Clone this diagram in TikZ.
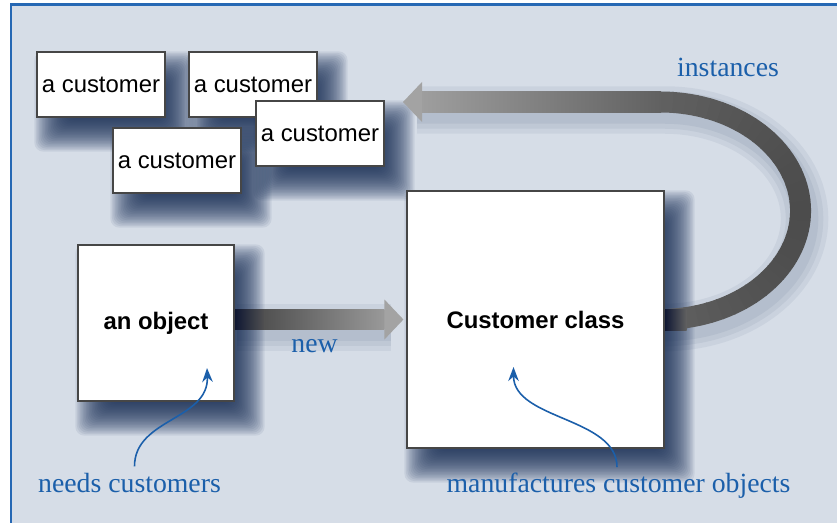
\documentclass[tikz,border=0pt]{standalone}
\usepackage{fontspec}
\setmainfont{Liberation Sans}
\newfontfamily\notefont{Liberation Serif}
\usetikzlibrary{positioning, calc, arrows.meta}

\definecolor{paneblue}{RGB}{214,221,231}
\definecolor{frameblue}{RGB}{38,104,180}
\definecolor{noteblue}{RGB}{27,95,170}
\definecolor{shadownavy}{RGB}{20,44,84}
\definecolor{arrownavy}{RGB}{14,22,50}
\definecolor{boxline}{RGB}{70,70,70}

\pgfdeclarelayer{backdrop}
\pgfdeclarelayer{shadow}
\pgfdeclarelayer{band}
\pgfsetlayers{backdrop,shadow,band,main}

\begin{document}
\begin{tikzpicture}[x=0.02cm, y=-0.02cm, node distance=3.04cm]
    % Define block styles
    \tikzstyle{custbox} = [rectangle, draw=boxline, line width=0.7pt, fill=white, minimum width=2.56cm, minimum height=1.3cm, inner sep=0pt, font=\fontsize{13.6}{16}\selectfont]
    \tikzstyle{bigbox} = [custbox, font=\fontsize{13.6}{16}\selectfont\bfseries]
    \tikzstyle{note} = [text=noteblue, inner sep=0pt, anchor=base, font=\notefont\fontsize{15.8}{19}\selectfont]
    \tikzstyle{pointer} = [draw=noteblue, line width=0.9pt, -{Stealth[length=8pt, width=6pt]}]
    \tikzstyle{bandline} = [line width=0.42cm]

    \useasboundingbox (0,0) rectangle (837,523);

    % Place nodes
    \node [custbox] (customer_a) at (101,84.5) {a customer};
    \node [custbox, right of=customer_a] (customer_b) {a customer};
    \node [custbox, yshift=-1.52cm] (customer_c) at ($(customer_a)!0.5!(customer_b)$) {a customer};
    \node [custbox, xshift=1.34cm, yshift=-0.98cm] (customer_d) at (customer_b) {a customer};
    \node [bigbox, minimum width=3.12cm, minimum height=3.12cm] (an_object) at (156,323) {an object};
    \node [bigbox, minimum width=5.14cm, minimum height=5.14cm] (customer_class) at (535.5,319.5) {Customer class};

    % Add text
    \node [note] (label_instances) at (728,77) {instances};
    \node [note] (label_new) at (314.5,352.5) {new};
    \node [note] (label_needs) at (129.5,492) {needs customers};
    \node [note] (label_manufactures) at (618.5,492) {manufactures customer objects};

    % Arrow ends
    \coordinate (object_spot) at ($(an_object.center)+(51,45)$);
    \coordinate (class_spot) at ($(customer_class.center)+(-22,47.5)$);
    \coordinate (new_start) at (an_object.east |- customer_class.west);
    \coordinate (new_tip) at ($(customer_class.west)+(-3,0)$);
    \coordinate (inst_tip) at (403,102);
    \coordinate (loop_center) at ($(customer_class.east)+(-4,-108.75)$);
    \coordinate (loop_top) at ($(loop_center)+(0,-108.75)$);

    % Draw pointers
    \draw [pointer] ([shift={(5,-6)}]label_needs.north) .. controls +(0,-48) and +(2,52) .. (object_spot);
    \draw [pointer] ([shift={(-1.5,-5)}]label_manufactures.north) .. controls +(0,-50) and +(0,53) .. (class_spot);

    % Draw the wide arrows
    \begin{pgfonlayer}{band}
        \shade [left color=arrownavy, right color=black!68] ($(new_start)+(0,-10)$) rectangle ($(new_start)+(30,10)$);
        \shade [left color=black!68, right color=black!40] ($(new_start)+(29.5,-10)$) rectangle ($(new_tip)+(-19,10)$);
        \fill [black!36] ($(new_tip)+(-19,-20)$) -- (new_tip) -- ($(new_tip)+(-19,20)$) -- cycle;

        \foreach \a [evaluate=\a as \g using {62+8*cos(\a+2.5)}] in {-90,-85,...,85}
            \draw [bandline, black!\g] ($(loop_center)+(\a:2.8cm and 2.175cm)$) arc [start angle=\a, end angle=\a+5.5, x radius=2.8cm, y radius=2.175cm];
        \shade [left color=black!38, right color=black!62] ($(inst_tip)+(18.5,-10.5)$) rectangle ($(loop_top)+(0.5,10.5)$);
        \fill [black!36] ($(inst_tip)+(19,-20)$) -- (inst_tip) -- ($(inst_tip)+(19,20)$) -- cycle;
        \shade [left color=arrownavy, right color=black!62] ($(customer_class.east)+(0,-10.5)$) rectangle ($(customer_class.east)+(22,10.5)$);
    \end{pgfonlayer}

    % Soft shadows
    \begin{pgfonlayer}{shadow}
        \foreach \n in {customer_a, customer_b, customer_c, customer_d, an_object, customer_class}
            \foreach \k in {0,...,23}
                \fill [shadownavy, opacity=0.075, rounded corners=5pt] ([shift={(-2+1.5*\k, 1.5*\k)}]\n.north west) rectangle ([shift={(30-1.5*\k, 34-1.5*\k)}]\n.south east);
        \foreach \w in {0.95cm, 0.75cm, 0.55cm}{
            \draw [shadownavy, opacity=0.06, line width=\w] ([shift={(2,8)}]new_start) -- ([shift={(-12,8)}]new_tip);
            \draw [shadownavy, opacity=0.06, line width=\w] ([shift={(14,8)}]inst_tip) -- ([shift={(4,8)}]loop_top) arc [start angle=90, end angle=-90, x radius=2.8cm, y radius=2.175cm];
        }
    \end{pgfonlayer}

    % Pane and frame
    \begin{pgfonlayer}{backdrop}
        \fill [paneblue] (10,4) rectangle (837,523);
        \draw [frameblue, line width=0.05cm] (11,523) -- (11,4.5) -- (837,4.5);
    \end{pgfonlayer}
\end{tikzpicture}
\end{document}
